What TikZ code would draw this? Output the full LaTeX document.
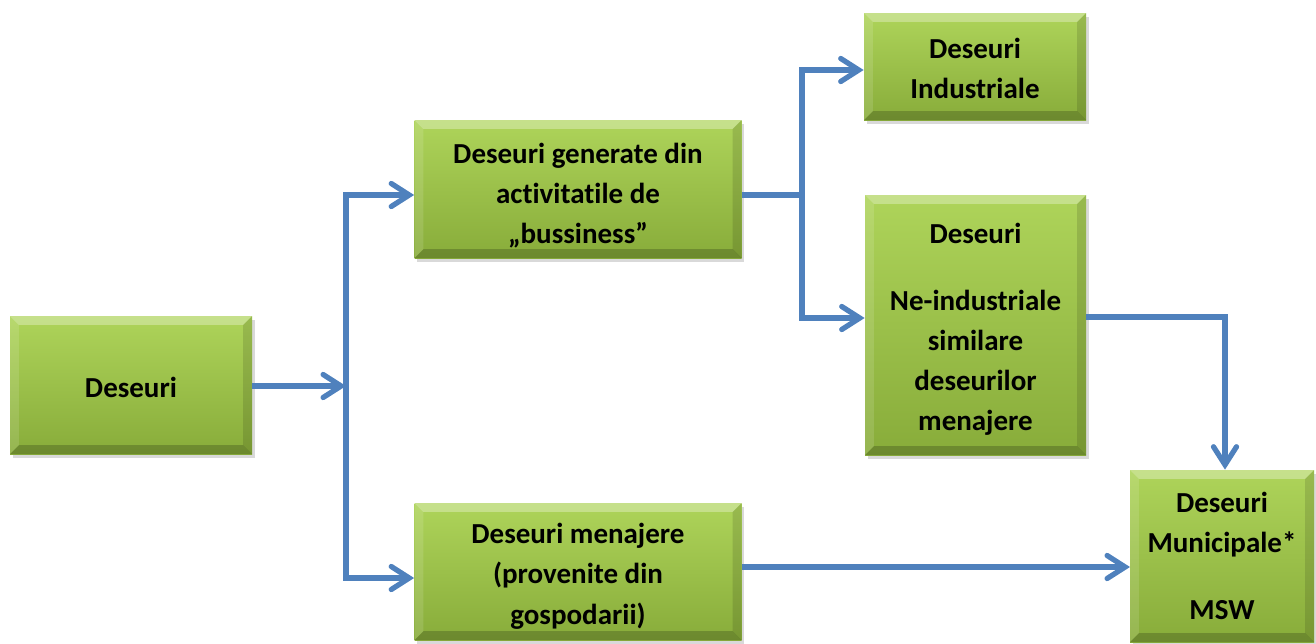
\documentclass[tikz,border=0pt]{standalone}
\usepackage{fontspec}
\setmainfont{Carlito}[RawFeature=-liga]
\usetikzlibrary{arrows.meta,shadows,calc}
\definecolor{verdeS}{RGB}{174,212,90}
\definecolor{verdeJ}{RGB}{136,172,58}
\definecolor{albastru}{RGB}{79,129,189}
\def\px{0.02cm}
\def\bv{5pt}
\newcommand\susp[1]{\rule{0pt}{#1}}
\tikzset{
  cutie/.style 2 args={minimum width=#1*\px, minimum height=#2*\px, inner sep=0pt,
    top color=verdeS, bottom color=verdeJ, align=center,
    font=\bfseries\fontsize{16.5}{22.8}\selectfont,
    drop shadow={opacity=.3, shadow xshift=1.5pt, shadow yshift=-2pt},
    path picture={
      \path (path picture bounding box.north west) coordinate (pa)
            (path picture bounding box.south east) coordinate (pb);
      \fill[white,opacity=.3] (pa) -- (pa-|pb) -- ($(pa-|pb)+(-\bv,-\bv)$) -- ($(pa)+(\bv,-\bv)$) -- cycle;
      \fill[white,opacity=.12] (pa) -- (pa|-pb) -- ($(pa|-pb)+(\bv,\bv)$) -- ($(pa)+(\bv,-\bv)$) -- cycle;
      \fill[black,opacity=.2] (pb) -- (pa|-pb) -- ($(pa|-pb)+(\bv,\bv)$) -- ($(pb)+(-\bv,\bv)$) -- cycle;
      \fill[black,opacity=.12] (pb) -- (pa-|pb) -- ($(pa-|pb)+(-\bv,-\bv)$) -- ($(pb)+(-\bv,\bv)$) -- cycle;}},
  varf/.tip={Straight Barb[length=3.6mm,width=4.6mm,line cap=round]},
  sag/.style={draw=albastru, line width=3pt, line join=miter, -varf},
  sag2/.style={sag, varf-varf}
}
\begin{document}
\begin{tikzpicture}[x=\px, y=-\px]
\useasboundingbox (0,0) rectangle (1316,643);
% cutii
\node[cutie={242}{138}] (des) at (131,385) {\susp{14pt}Deseuri};
\node[cutie={327}{138}] (bus) at (578,189) {\susp{19pt}Deseuri generate din\\activitatile de\\„bussiness”};
\node[cutie={327}{137}] (men) at (578,571.5) {\susp{17pt}Deseuri menajere\\(provenite din\\gospodarii)};
\node[cutie={222}{107}] (ind) at (975,66.5) {\susp{13.5pt}Deseuri\\Industriale};
\node[cutie={221}{260}] (nei) at (975.5,325) {\susp{16.5pt}Deseuri\\[0.55cm]Ne-industriale\\similare\\deseurilor\\menajere};
\node[cutie={184}{172}] (msw) at (1222,556) {Deseuri\\Municipale*\\[0.55cm]MSW};
% sageti
\path (346,386) coordinate (t0) (346,195) coordinate (t1) (346,578) coordinate (t2)
  (802,195) coordinate (r1) (802,70) coordinate (r2) (802,318) coordinate (r3)
  (1225,317) coordinate (m1) (1130,567) coordinate (m2);
\draw[sag] (des.east|-t0) -- (t0);
\draw[sag2] (t1-|bus.west) -- (t1) -- (t2) -- (t2-|men.west);
\draw[sag,-] (bus.east|-r1) -- (r1);
\draw[sag2] (r2-|ind.west) -- (r2) -- (r3) -- (r3-|nei.west);
\draw[sag] (nei.east|-m1) -- (m1) -- (m1|-msw.north);
\draw[sag] (men.east|-m2) -- (m2);
\end{tikzpicture}
\end{document}
